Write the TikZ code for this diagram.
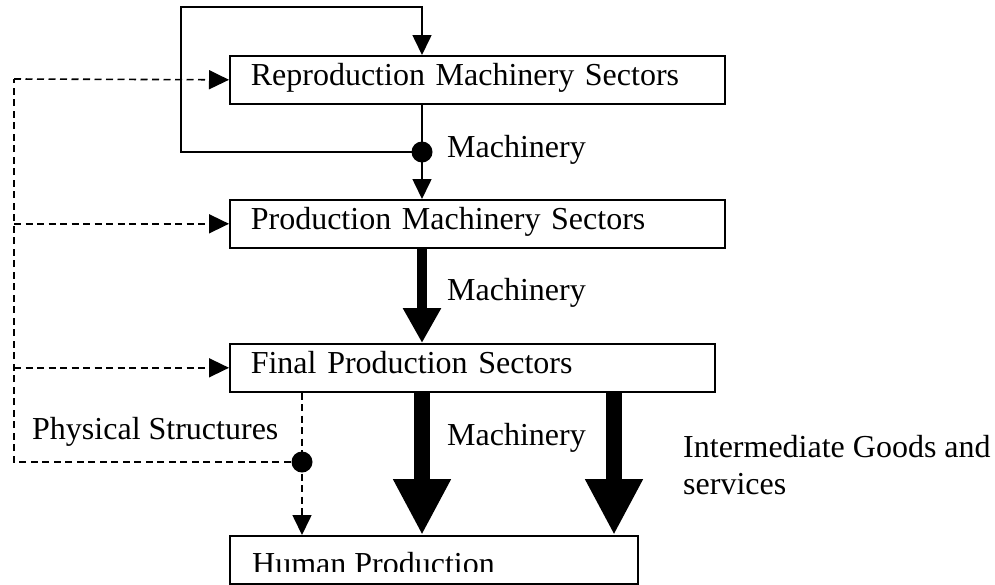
\documentclass[tikz,border=0pt]{standalone}
\usepackage{fontspec}
\setmainfont{Liberation Serif}
\usetikzlibrary{arrows.meta}
\begin{document}
\begin{tikzpicture}[x=1pt,y=-1pt,
  sectorbox/.style={draw, line width=1.6pt, anchor=north west, minimum height=48pt,
    inner xsep=21pt, inner ysep=0pt, align=left, text height=22pt, text depth=10pt,
    font=\fontsize{32}{37}\selectfont},
  thinarrow/.style={line width=1.6pt, -{Triangle[width=19pt,length=20pt]}},
  dashline/.style={line width=1.6pt, dash pattern=on 7pt off 4.5pt},
  dasharrow/.style={line width=1.6pt, dash pattern=on 7pt off 4.5pt, -{Triangle[width=19pt,length=20pt]}},
  midarrow/.style={line width=10pt, -{Triangle[width=36pt,length=35pt]}},
  bigarrow/.style={line width=16pt, -{Triangle[width=54pt,length=56pt]}},
  joint/.style={circle, fill=black, inner sep=0pt, minimum size=21pt},
  lbl/.style={anchor=base west, inner sep=0pt, font=\fontsize{32}{37}\selectfont}
]
\useasboundingbox (0,0) rectangle (995,584);

% boxes
\node[sectorbox, text width=453pt] (rep) at (229,55) {Reproduction Machinery Sectors};
\node[sectorbox, text width=453pt] (prod) at (229,199) {Production Machinery Sectors};
\node[sectorbox, text width=443pt] (final) at (229,343) {Final Production Sectors};
\node[draw, line width=1.6pt, anchor=north west, minimum width=408pt, minimum height=48pt, inner sep=0pt] (hum) at (229,535) {};
\begin{scope}
  \clip (229,535) rectangle (637,571);
  \node[lbl] (humtxt) at (252,574) {Human Production};
\end{scope}

% helper coordinates
\coordinate (d1pos) at (422,152);
\coordinate (lt) at (181,7);
\coordinate (lft) at (14,79);
\coordinate (rcol) at (614,400);

% reproduction loop
\draw[thinarrow] (d1pos) -| (lt) -| (rep.north -| d1pos);
\draw[thinarrow] (rep.south -| d1pos) -- (prod.north -| d1pos);
\node[joint] (d1) at (d1pos) {};

% thick arrows
\draw[midarrow] (prod.south -| d1pos) -- (final.north -| d1pos);
\draw[bigarrow] (final.south -| d1pos) -- (hum.north -| d1pos);
\draw[bigarrow] (final.south -| rcol) -- (hum.north -| rcol);

% physical structures (dashed)
\coordinate (d2pos) at (302,462);
\draw[dashline] (final.south -| d2pos) -- (d2pos);
\draw[dasharrow] (d2pos) -- (hum.north -| d2pos);
\draw[dashline] (d2pos) -| (lft);
\draw[dasharrow] (lft) -- (rep.west);
\draw[dasharrow] (prod.west -| lft) -- (prod.west);
\draw[dasharrow] (final.west -| lft) -- (final.west);
\node[joint] (d2) at (d2pos) {};

% labels
\node[lbl] (m1) at (447,157) {Machinery};
\node[lbl] (m2) at (447,300) {Machinery};
\node[lbl] (m3) at (447,445) {Machinery};
\node[lbl] (phys) at (32,439) {Physical Structures};
\node[lbl] (inter) at (683,457) {\begin{tabular}[t]{@{}l@{}}Intermediate Goods and\\services\end{tabular}};
\end{tikzpicture}
\end{document}
